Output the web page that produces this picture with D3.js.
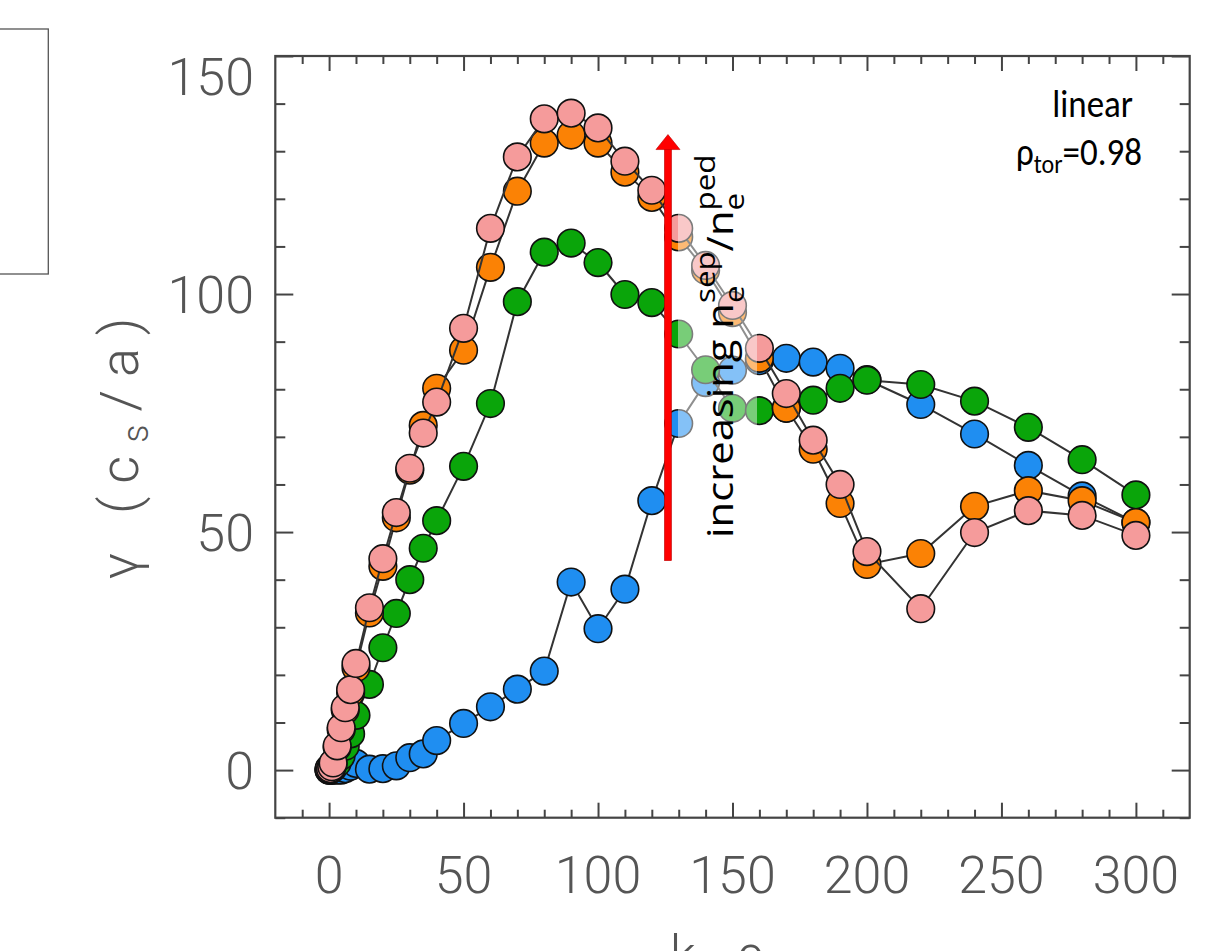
<!DOCTYPE html>
<html>
<head>
<meta charset="utf-8">
<script src="https://cdn.jsdelivr.net/npm/d3@7"></script>
<style>
  html, body { margin: 0; padding: 0; background: #fff; }
  svg { display: block; }
  .tick-label { font-family: Roboto, "DejaVu Sans", sans-serif; font-weight: 300; fill: #555; }
  .note { font-family: Carlito, Lato, "Open Sans", sans-serif; fill: #000; }
  .note-wide { font-family: "Open Sans", Lato, sans-serif; fill: #000; }
</style>
</head>
<body>
<svg id="chart" width="1208" height="951"></svg>
<script>
// Wavenumber grid shared by every scan
const k = [0, 0.5, 1, 1.5, 3, 4.5, 6, 8, 10, 15, 20, 25, 30, 35, 40, 50, 60, 70, 80, 90, 100,
           110, 120, 130, 140, 150, 160, 170, 180, 190, 200, 220, 240, 260, 280, 300];

// Linear growth rates, one array per separatrix density ratio (lowest to highest)
const gammaBlue   = [0, 0, 0, 0, 0, 0, 0.3, 0.8, 1.4, 0.2, 0.3, 0.9, 2.6, 3.4, 6.2, 9.8, 13.3, 17.0, 20.8, 39.5, 29.7,
                     38.0, 56.6, 72.8, 81.4, 84.0, 86.0, 86.5, 85.7, 84.4, 82.0, 76.8, 70.6, 64.0, 57.6, 52.0];
const gammaGreen  = [0, 0.1, 0.3, 0.5, 1.5, 3.0, 5.0, 7.6, 11.5, 18.0, 25.7, 32.9, 40.0, 46.6, 52.4, 63.8, 77.0, 98.4, 108.8, 110.7, 106.6,
                     99.9, 98.2, 91.6, 84.1, 76.0, 75.5, 76.0, 77.7, 80.2, 81.9, 81.0, 77.5, 72.0, 65.2, 57.8];
const gammaOrange = [0.2, 0.3, 0.6, 1.3, 4.8, 8.5, 12.6, 16.3, 21.5, 33.0, 42.8, 53.0, 63.0, 72.4, 80.2, 88.2, 105.6, 121.6, 131.7, 133.4, 131.7,
                     125.6, 120.3, 112.0, 105.0, 96.1, 86.5, 76.0, 67.4, 56.0, 43.2, 45.5, 55.4, 58.7, 56.6, 52.0];
const gammaPink   = [0.3, 0.3, 0.7, 1.5, 5.1, 8.9, 13.1, 16.9, 22.4, 34.1, 44.4, 54.1, 63.4, 70.8, 77.3, 92.8, 113.8, 128.8, 136.8, 138.0, 134.9,
                     127.9, 121.8, 113.8, 106.0, 97.6, 88.6, 79.1, 69.3, 60.0, 45.9, 33.9, 49.9, 54.5, 53.5, 49.3];

const seriesColors = ["#1f8ef1", "#0aa50a", "#fb8205", "#f59b9b"];

// Axis ticks and labels
const xMajor = [0, 50, 100, 150, 200, 250, 300];
const yMajor = [0, 50, 100, 150];
const xMinor = d3.range(-10, 320, 10).filter(v => v % 50 !== 0);
const yMinor = d3.range(-10, 150, 10).filter(v => v % 50 !== 0);

const series = [gammaBlue, gammaGreen, gammaOrange, gammaPink].map((g, i) => ({
  color: seriesColors[i],
  points: k.map((kv, j) => ({ k: kv, g: g[j] }))
}));

const svg = d3.select("#chart");
const frame = { left: 275.3, right: 1189.7, top: 56, bottom: 817.7 };

const x = d3.scaleLinear().domain([-20, 320]).range([frame.left, frame.right]);
const y = d3.scaleLinear().domain([-10, 150]).range([frame.bottom, frame.top]);

// Empty legend box at the left edge
svg.append("rect")
  .attr("x", -2).attr("y", 29).attr("width", 50.3).attr("height", 245)
  .attr("fill", "none").attr("stroke", "#555").attr("stroke-width", 1.3);

// Data: connecting line, then the markers, for each scan
const line = d3.line().x(d => x(d.k)).y(d => y(d.g));
const dataLayer = svg.append("g");
series.forEach(s => {
  const g = dataLayer.append("g");
  g.append("path")
    .datum(s.points)
    .attr("d", line)
    .attr("fill", "none")
    .attr("stroke", "#333")
    .attr("stroke-width", 2);
  g.selectAll("circle")
    .data(s.points)
    .join("circle")
    .attr("cx", d => x(d.k))
    .attr("cy", d => y(d.g))
    .attr("r", 13.8)
    .attr("fill", s.color)
    .attr("stroke", "#111")
    .attr("stroke-width", 1.6);
});

// Frame with inward ticks on all sides
function styleTicks(g) {
  g.select(".domain").remove();
  g.selectAll(".tick line").attr("stroke", "#444").attr("stroke-width", 2);
  g.selectAll(".tick text").remove();
}
svg.append("g").attr("transform", `translate(0,${frame.bottom})`)
  .call(d3.axisBottom(x).tickValues(xMajor).tickSize(-15)).call(styleTicks);
svg.append("g").attr("transform", `translate(0,${frame.bottom})`)
  .call(d3.axisBottom(x).tickValues(xMinor).tickSize(-8)).call(styleTicks);
svg.append("g").attr("transform", `translate(0,${frame.top})`)
  .call(d3.axisTop(x).tickValues(xMajor).tickSize(-15)).call(styleTicks);
svg.append("g").attr("transform", `translate(0,${frame.top})`)
  .call(d3.axisTop(x).tickValues(xMinor).tickSize(-8)).call(styleTicks);
svg.append("g").attr("transform", `translate(${frame.left},0)`)
  .call(d3.axisLeft(y).tickValues(yMajor).tickSize(-18)).call(styleTicks);
svg.append("g").attr("transform", `translate(${frame.left},0)`)
  .call(d3.axisLeft(y).tickValues(yMinor).tickSize(-10)).call(styleTicks);
svg.append("g").attr("transform", `translate(${frame.right},0)`)
  .call(d3.axisRight(y).tickValues(yMajor).tickSize(-18)).call(styleTicks);
svg.append("g").attr("transform", `translate(${frame.right},0)`)
  .call(d3.axisRight(y).tickValues(yMinor).tickSize(-10)).call(styleTicks);

svg.append("rect")
  .attr("x", frame.left).attr("y", frame.top)
  .attr("width", frame.right - frame.left).attr("height", frame.bottom - frame.top)
  .attr("fill", "none").attr("stroke", "#444").attr("stroke-width", 2.2);

// Tick labels
svg.append("g").selectAll("text")
  .data(xMajor).join("text")
  .attr("class", "tick-label")
  .attr("x", d => x(d)).attr("y", 893)
  .attr("text-anchor", "middle")
  .attr("font-size", 52)
  .text(d => d);

svg.append("g").selectAll("text")
  .data(yMajor).join("text")
  .attr("class", "tick-label")
  .attr("x", 254)
  .attr("y", d => Math.max(y(d), frame.top + 20) + 19)
  .attr("text-anchor", "end")
  .attr("font-size", 52)
  .text(d => d);

// Axis titles
const xTitle = svg.append("text")
  .attr("class", "tick-label")
  .attr("x", 738).attr("y", 972)
  .attr("text-anchor", "middle")
  .attr("font-size", 52)
  .attr("letter-spacing", 12);
xTitle.append("tspan").text("k");
xTitle.append("tspan").attr("font-size", 34).attr("dy", 10).text("y");
xTitle.append("tspan").attr("dy", -10).text("ρ");
xTitle.append("tspan").attr("font-size", 34).attr("dy", 10).text("s");

const yTitle = svg.append("text")
  .attr("class", "tick-label")
  .attr("transform", "translate(138,442) rotate(-90)")
  .attr("text-anchor", "middle")
  .attr("font-size", 54)
  .attr("letter-spacing", 13);
yTitle.append("tspan").text("γ (c");
yTitle.append("tspan").attr("font-size", 36).attr("dy", 10).text("s");
yTitle.append("tspan").attr("dy", -10).text("/a)");

// Case label, upper right
svg.append("text").attr("class", "note")
  .attr("transform", "translate(1133,117) scale(1,1.12)")
  .attr("text-anchor", "end").attr("font-size", 35)
  .text("linear");
const rho = svg.append("text").attr("class", "note")
  .attr("transform", "translate(1142,165) scale(1,1.12)")
  .attr("text-anchor", "end").attr("font-size", 35);
rho.append("tspan").text("ρ");
rho.append("tspan").attr("font-size", 24).attr("dy", 7).text("tor");
rho.append("tspan").attr("dy", -7).text("=0.98");

// Haze behind the rotated annotation
svg.append("rect")
  .attr("x", 678).attr("y", 146).attr("width", 79).attr("height", 398)
  .attr("fill", "#fff").attr("fill-opacity", 0.45);

// Scan direction arrow
const arrowX = x(126);
const arrowBottom = y(44), arrowTip = y(133.5);
svg.append("rect")
  .attr("x", arrowX - 3.5).attr("y", arrowTip + 14)
  .attr("width", 7).attr("height", arrowBottom - arrowTip - 14)
  .attr("fill", "#f00").attr("stroke", "#b00").attr("stroke-width", 0.6);
svg.append("path")
  .attr("d", `M${arrowX - 12},${arrowTip + 15} L${arrowX},${arrowTip} L${arrowX + 12},${arrowTip + 15} Z`)
  .attr("fill", "#f00").attr("stroke", "#b00").attr("stroke-width", 0.6);

// Rotated annotation: n_e^sep / n_e^ped with stacked sub/superscripts
const noteG = svg.append("g").attr("transform", "translate(733,538) rotate(-90) scale(1.16,1)");
const fs = 36, fsSmall = 27;
function measure(str, size) {
  const t = noteG.append("text").attr("class", "note-wide").attr("font-size", size).text(str);
  const w = t.node().getComputedTextLength();
  t.remove();
  return w;
}
const note = noteG.append("text").attr("class", "note-wide").attr("font-size", fs);
note.append("tspan").text("increasing n");
note.append("tspan").attr("font-size", fsSmall).attr("dy", 11).text("e");
note.append("tspan").attr("font-size", fsSmall).attr("dy", -29)
  .attr("dx", -measure("e", fsSmall)).text("sep");
note.append("tspan").attr("dy", 18).text("/n");
note.append("tspan").attr("font-size", fsSmall).attr("dy", 11).text("e");
note.append("tspan").attr("font-size", fsSmall).attr("dy", -29)
  .attr("dx", -measure("e", fsSmall)).text("ped");
</script>
</body>
</html>
